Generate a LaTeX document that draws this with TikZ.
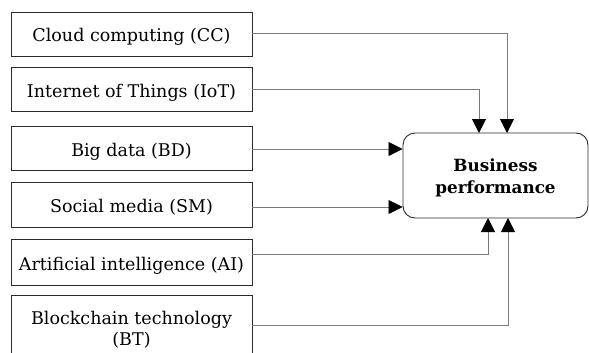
\documentclass[tikz,border=0pt]{standalone}
\usepackage{fontspec}
\setmainfont{DejaVu Serif}
\usetikzlibrary{arrows.meta}
\definecolor{boxline}{HTML}{2B2B2B}
\definecolor{wire}{HTML}{7A7A7A}
\tikzset{
  factor/.style={draw=boxline, line width=0.9pt, minimum width=241pt, inner sep=0pt,
    text height=18pt, text depth=2pt, align=center, font=\fontsize{17.5}{21}\selectfont},
  outcome/.style={draw=boxline, line width=0.9pt, rounded corners=12pt, minimum width=185pt,
    minimum height=85pt, inner sep=0pt, font=\bfseries\fontsize{16.8}{22}\selectfont},
  link/.style={draw=wire, line width=0.8pt, -{Triangle[length=14pt,width=14pt,fill=black,color=black]}}
}
\begin{document}
\begin{tikzpicture}[x=1pt,y=-1pt]
  \useasboundingbox (0,0) rectangle (589,353);
  \clip (0,0) rectangle (589,353);
  % factor boxes
  \node[factor, minimum height=44pt] (cc)  at (131.5,34)  {Cloud computing (CC)};
  \node[factor, minimum height=44pt] (iot) at (131.5,89)  {Internet of Things (IoT)};
  \node[factor, minimum height=44pt] (bd)  at (131.5,148) {Big data (BD)};
  \node[factor, minimum height=45pt] (sm)  at (131.5,204.5) {Social media (SM)};
  \node[factor, minimum height=46pt] (ai)  at (131.5,262) {Artificial intelligence (AI)};
  \node[factor, minimum height=80pt] (bt) at (131.5,335) {};
  \node[font=\fontsize{17.5}{20.5}\selectfont, align=center, inner sep=0pt] (btlabel) at (131.5,329.5) {Blockchain technology\\(BT)};
  % outcome box
  \node[outcome] (bp) at (495.5,175.5)
    {\raisebox{-2.5pt}[\height][\depth]{\setlength{\tabcolsep}{0pt}\begin{tabular}{c}Business\\performance\end{tabular}}};
  % connectors
  \coordinate (bpt1) at (479,133);
  \coordinate (bpt2) at (507,133);
  \coordinate (bpb1) at (488,218);
  \coordinate (bpb2) at (508,218);
  \draw[link] (cc.east |- 0,33) -| (bpt2);
  \draw[link] (iot.east |- 0,89) -| (bpt1);
  \draw[link] (bd.east |- 0,149) -- (bp.west |- 0,149);
  \draw[link] (sm.east |- 0,207) -- (bp.west |- 0,207);
  \draw[link] (ai.east |- 0,254) -| (bpb1);
  \draw[link] (bt.east |- 0,325) -| (bpb2);
\end{tikzpicture}
\end{document}
